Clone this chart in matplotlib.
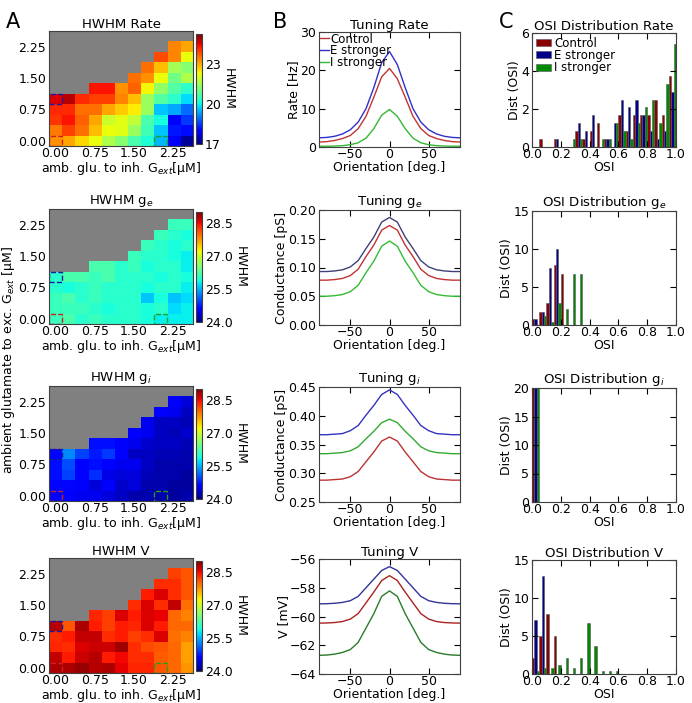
import numpy as np
import matplotlib
matplotlib.use('Agg')
import matplotlib.pyplot as plt
from matplotlib.patches import Rectangle

nan = np.nan

# grid of ambient glutamate values (both axes), step 0.25
amb_values = [0.0, 0.25, 0.5, 0.75, 1.0, 1.25, 1.5, 1.75, 2.0, 2.25, 2.5]
grid_ticks = [0.0, 0.75, 1.5, 2.25]

# HWHM maps, rows = exc. glutamate (bottom to top), cols = inh. glutamate
hwhm_rate = [
    [23.2, 23.0, 22.6, 22.2, 21.6, 21.2, 20.6, 20.2, 19.5, 18.0, 17.2],
    [23.4, 23.9, 23.5, 22.8, 22.2, 22.1, 21.4, 20.5, 19.6, 18.2, 18.1],
    [24.0, 24.3, 23.6, 23.0, 21.9, 22.1, 21.8, 20.6, 20.1, 18.0, 18.5],
    [24.1, 24.1, 23.5, 23.5, 23.0, 22.7, 22.4, 21.4, 19.6, 19.4, 18.9],
    [24.5, 24.8, 24.1, 23.9, 23.9, 23.3, 22.8, 21.4, 20.7, 20.3, 19.8],
    [nan, nan, nan, 24.3, 24.3, 23.2, 23.6, 22.3, 21.3, 20.7, 20.3],
    [nan, nan, nan, nan, nan, nan, 23.5, 23.2, 22.2, 21.0, 21.6],
    [nan, nan, nan, nan, nan, nan, nan, 23.5, 22.8, 21.5, 21.2],
    [nan, nan, nan, nan, nan, nan, nan, nan, 23.8, 23.3, 22.2],
    [nan, nan, nan, nan, nan, nan, nan, nan, nan, 23.3, 23.0],
    [nan, nan, nan, nan, nan, nan, nan, nan, nan, nan, nan],
]
hwhm_ge = [
    [26.1, 26.2, 26.0, 26.1, 26.0, 26.0, 26.0, 25.9, 25.8, 25.8, 25.8],
    [26.1, 26.1, 26.1, 26.0, 25.9, 26.0, 26.0, 25.9, 26.0, 25.7, 25.8],
    [26.1, 26.2, 26.0, 26.1, 26.0, 26.0, 26.0, 25.6, 25.9, 25.6, 25.7],
    [26.0, 25.9, 26.0, 26.1, 26.0, 26.0, 26.0, 25.9, 26.0, 26.0, 25.8],
    [26.0, 26.2, 26.2, 26.1, 26.2, 26.0, 26.0, 26.0, 25.9, 26.0, 25.9],
    [nan, nan, nan, 26.2, 26.2, 26.0, 26.1, 25.9, 26.0, 26.0, 25.8],
    [nan, nan, nan, nan, nan, nan, 26.1, 26.0, 26.0, 25.9, 25.8],
    [nan, nan, nan, nan, nan, nan, nan, 26.1, 26.0, 25.9, 26.0],
    [nan, nan, nan, nan, nan, nan, nan, nan, 26.1, 26.0, 25.9],
    [nan, nan, nan, nan, nan, nan, nan, nan, nan, 26.1, 26.1],
    [nan, nan, nan, nan, nan, nan, nan, nan, nan, nan, nan],
]
hwhm_gi = [
    [24.6, 24.6, 24.5, 24.5, 24.4, 24.3, 24.2, 24.2, 24.2, 24.15, 24.2],
    [24.65, 24.65, 24.55, 24.4, 24.6, 24.35, 24.4, 24.2, 24.2, 24.15, 24.15],
    [24.7, 24.95, 24.6, 24.85, 24.45, 24.4, 24.4, 24.25, 24.2, 24.2, 24.15],
    [24.7, 25.0, 24.6, 24.7, 24.6, 24.5, 24.5, 24.3, 24.2, 24.2, 24.2],
    [24.65, 25.3, 24.95, 24.75, 24.9, 24.6, 24.3, 24.3, 24.25, 24.25, 24.2],
    [nan, nan, nan, 24.7, 24.7, 24.6, 24.5, 24.35, 24.3, 24.3, 24.25],
    [nan, nan, nan, nan, nan, nan, 24.6, 24.5, 24.3, 24.25, 24.35],
    [nan, nan, nan, nan, nan, nan, nan, 24.5, 24.3, 24.3, 24.25],
    [nan, nan, nan, nan, nan, nan, nan, nan, 24.6, 24.5, 24.3],
    [nan, nan, nan, nan, nan, nan, nan, nan, nan, 24.6, 24.4],
    [nan, nan, nan, nan, nan, nan, nan, nan, nan, nan, nan],
]
hwhm_v = [
    [28.8, 28.8, 28.9, 28.75, 28.8, 28.55, 28.35, 28.35, 28.1, 28.0, 27.75],
    [28.7, 28.4, 28.65, 28.75, 28.4, 28.5, 28.3, 28.3, 28.05, 28.0, 27.7],
    [28.35, 28.3, 28.6, 28.65, 28.65, 28.85, 28.3, 28.15, 28.1, 28.0, 27.7],
    [28.3, 28.4, 28.7, 28.7, 28.3, 28.4, 28.2, 28.3, 28.6, 27.95, 27.85],
    [28.75, 28.1, 28.8, 28.4, 28.2, 28.4, 28.35, 28.6, 28.4, 28.0, 28.0],
    [nan, nan, nan, 28.35, 28.2, 28.6, 28.4, 28.6, 28.55, 28.0, 27.85],
    [nan, nan, nan, nan, nan, nan, 28.3, 28.6, 28.3, 28.7, 27.95],
    [nan, nan, nan, nan, nan, nan, nan, 28.4, 28.6, 28.3, 28.1],
    [nan, nan, nan, nan, nan, nan, nan, nan, 28.3, 28.3, 28.1],
    [nan, nan, nan, nan, nan, nan, nan, nan, nan, 28.2, 28.1],
    [nan, nan, nan, nan, nan, nan, nan, nan, nan, nan, nan],
]

# selected parameter sets (inh, exc)
sel_control = (0.0, 0.0)
sel_estrong = (0.0, 1.0)
sel_istrong = (2.0, 0.0)

# tuning curves
orientation = [-90, -80, -70, -60, -50, -40, -30, -20, -10, 0,
               10, 20, 30, 40, 50, 60, 70, 80, 90]
rate_ctrl = [1.3, 1.4, 1.7, 2.2, 3.0, 4.8, 8.0, 13.0, 18.3, 20.5,
             17.8, 13.0, 8.0, 4.8, 3.0, 2.2, 1.7, 1.4, 1.3]
rate_e = [2.4, 2.5, 2.8, 3.4, 4.5, 6.5, 10.0, 15.5, 22.0, 24.9,
          21.5, 15.5, 10.0, 6.5, 4.5, 3.4, 2.8, 2.5, 2.4]
rate_i = [0.2, 0.2, 0.25, 0.35, 0.6, 1.1, 2.3, 4.8, 8.3, 9.8,
          8.0, 4.8, 2.3, 1.1, 0.6, 0.35, 0.25, 0.2, 0.2]
ge_ctrl = [0.078, 0.078, 0.079, 0.081, 0.086, 0.097, 0.119, 0.139, 0.165, 0.173,
           0.165, 0.139, 0.119, 0.097, 0.086, 0.081, 0.079, 0.078, 0.078]
ge_e = [0.093, 0.093, 0.094, 0.096, 0.101, 0.112, 0.133, 0.153, 0.179, 0.187,
        0.179, 0.153, 0.133, 0.112, 0.101, 0.096, 0.094, 0.093, 0.093]
ge_i = [0.050, 0.050, 0.051, 0.053, 0.058, 0.069, 0.091, 0.111, 0.137, 0.146,
        0.137, 0.111, 0.091, 0.069, 0.058, 0.053, 0.051, 0.050, 0.050]
gi_ctrl = [0.288, 0.288, 0.289, 0.290, 0.294, 0.303, 0.320, 0.337, 0.356, 0.363,
           0.356, 0.337, 0.320, 0.303, 0.294, 0.290, 0.289, 0.288, 0.288]
gi_e = [0.367, 0.367, 0.368, 0.369, 0.374, 0.383, 0.401, 0.418, 0.437, 0.445,
        0.437, 0.418, 0.401, 0.383, 0.374, 0.369, 0.368, 0.367, 0.367]
gi_i = [0.334, 0.334, 0.335, 0.336, 0.339, 0.346, 0.360, 0.373, 0.388, 0.394,
        0.388, 0.373, 0.360, 0.346, 0.339, 0.336, 0.335, 0.334, 0.334]
v_ctrl = [-60.46, -60.45, -60.42, -60.35, -60.18, -59.8, -59.05, -58.3, -57.5, -57.16,
          -57.5, -58.3, -59.05, -59.8, -60.18, -60.35, -60.42, -60.45, -60.46]
v_e = [-59.12, -59.11, -59.08, -59.02, -58.9, -58.6, -58.0, -57.4, -56.8, -56.53,
       -56.8, -57.4, -58.0, -58.6, -58.9, -59.02, -59.08, -59.11, -59.12]
v_i = [-62.7, -62.68, -62.62, -62.5, -62.3, -61.8, -60.8, -59.8, -58.6, -58.22,
       -58.6, -59.8, -60.8, -61.8, -62.3, -62.5, -62.62, -62.68, -62.7]

# OSI distributions (density per bin, 20 bins on [0, 1])
osi_bins = [0.0, 0.05, 0.1, 0.15, 0.2, 0.25, 0.3, 0.35, 0.4, 0.45,
            0.5, 0.55, 0.6, 0.65, 0.7, 0.75, 0.8, 0.85, 0.9, 0.95]
osi_rate_ctrl = [0, 0.42, 0, 0.42, 0, 0, 0.83, 0.42, 0.83, 1.25,
                 0.42, 0, 1.67, 0.83, 1.67, 1.67, 1.67, 2.5, 1.67, 3.75]
osi_rate_e = [0, 0, 0, 0.42, 0, 0, 1.25, 0.83, 1.67, 0,
              0.42, 1.25, 2.5, 2.08, 2.5, 1.67, 0.83, 0.42, 0.83, 2.92]
osi_rate_i = [0, 0, 0, 0, 0, 0.42, 0.42, 0, 0, 0.42,
              0.42, 1.25, 0.83, 0.42, 1.25, 2.08, 2.5, 1.25, 3.33, 5.42]
osi_ge_ctrl = [0.83, 1.67, 2.92, 7.92, 6.67, 0, 0, 0, 0, 0,
               0, 0, 0, 0, 0, 0, 0, 0, 0, 0]
osi_ge_e = [0.83, 1.67, 7.5, 10.0, 0, 0, 0, 0, 0, 0,
            0, 0, 0, 0, 0, 0, 0, 0, 0, 0]
osi_ge_i = [0, 1.25, 0.42, 2.92, 2.08, 6.67, 6.67, 0, 0, 0,
            0, 0, 0, 0, 0, 0, 0, 0, 0, 0]
osi_gi_ctrl = [20, 0, 0, 0, 0, 0, 0, 0, 0, 0, 0, 0, 0, 0, 0, 0, 0, 0, 0, 0]
osi_gi_e = [20, 0, 0, 0, 0, 0, 0, 0, 0, 0, 0, 0, 0, 0, 0, 0, 0, 0, 0, 0]
osi_gi_i = [20, 0, 0, 0, 0, 0, 0, 0, 0, 0, 0, 0, 0, 0, 0, 0, 0, 0, 0, 0]
osi_v_ctrl = [2.08, 5.0, 7.92, 5.0, 0, 0, 0, 0, 0, 0,
              0, 0, 0, 0, 0, 0, 0, 0, 0, 0]
osi_v_e = [7.08, 12.92, 0, 0, 0, 0, 0, 0, 0, 0,
           0, 0, 0, 0, 0, 0, 0, 0, 0, 0]
osi_v_i = [0.42, 0.83, 0.83, 1.25, 2.08, 0.83, 2.08, 6.67, 3.75, 0.42,
           0.42, 0.42, 0, 0, 0, 0, 0, 0, 0, 0]

labels = ['Control', 'E stronger', 'I stronger']

plt.rcParams['font.family'] = 'DejaVu Sans'
plt.rcParams['font.size'] = 9
plt.rcParams['xtick.direction'] = 'in'
plt.rcParams['ytick.direction'] = 'in'
plt.rcParams['xtick.top'] = True
plt.rcParams['ytick.right'] = True
plt.rcParams['xtick.major.size'] = 4
plt.rcParams['ytick.major.size'] = 4
plt.rcParams['xtick.major.pad'] = 1
plt.rcParams['ytick.major.pad'] = 2
plt.rcParams['axes.edgecolor'] = '0.25'
plt.rcParams['axes.titlesize'] = 9.5
plt.rcParams['axes.titlepad'] = 2
plt.rcParams['axes.labelsize'] = 9
plt.rcParams['axes.labelpad'] = 0
plt.rcParams['axes.unicode_minus'] = True

W, H = 692, 703
fig = plt.figure(figsize=(W / 100, H / 100), dpi=100)


def box(l, t, r, b):
    return [l / W, 1 - b / H, (r - l) / W, (b - t) / H]


tops = [31, 209, 386, 558]

# ---- column A: HWHM maps
maps = [hwhm_rate, hwhm_ge, hwhm_gi, hwhm_v]
map_titles = ['HWHM Rate', 'HWHM g$_e$', 'HWHM g$_i$', 'HWHM V']
map_lims = [(17.0, 25.2), (24.0, 29.0), (24.0, 29.0), (24.0, 29.0)]
map_cticks = [[17, 20, 23], [24.0, 25.5, 27.0, 28.5], [24.0, 25.5, 27.0, 28.5],
              [24.0, 25.5, 27.0, 28.5]]
map_cfmt = ['%d', '%.1f', '%.1f', '%.1f']
half = 0.125
for k in range(4):
    t = tops[k]
    ax = fig.add_axes(box(49, t, 193, t + 115))
    ax.set_facecolor('#808080')
    im = ax.imshow(np.array(maps[k]), origin='lower', cmap='jet',
                   vmin=map_lims[k][0], vmax=map_lims[k][1], aspect='auto',
                   interpolation='nearest',
                   extent=[amb_values[0] - half, amb_values[-1] + half,
                           amb_values[0] - half, amb_values[-1] + half])
    for (sx, sy), c in zip([sel_control, sel_estrong, sel_istrong],
                           ['#cc2020', '#1a1aa0', '#20a020']):
        ax.add_patch(Rectangle((sx - half, sy - half), 2 * half, 2 * half,
                               fill=False, ls='--', ec=c, lw=1.0))
    ax.set_xticks(grid_ticks)
    ax.set_yticks(grid_ticks)
    ax.set_xticklabels(['%.2f' % v for v in grid_ticks])
    ax.set_yticklabels(['%.2f' % v for v in grid_ticks])
    ax.tick_params(length=0)
    ax.tick_params(axis='x', pad=1)
    ax.tick_params(axis='y', pad=2)
    ax.set_title(map_titles[k])
    ax.set_xlabel('amb. glu. to inh. G$_{ext}$[μM]')
    cax = fig.add_axes(box(196, t + 3, 202, t + 113))
    cb = fig.colorbar(im, cax=cax, ticks=map_cticks[k], format=map_cfmt[k])
    cb.outline.set_edgecolor('0.25')
    cax.tick_params(length=0, pad=2)
    cb.set_label('HWHM', rotation=270, labelpad=10)

fig.text(0.013, 1 - 360 / H, 'ambient glutamate to exc. G$_{ext}$ [μM]',
         rotation=90, ha='center', va='center', fontsize=9)

# ---- column B: tuning curves
tun = [(rate_ctrl, rate_e, rate_i), (ge_ctrl, ge_e, ge_i),
       (gi_ctrl, gi_e, gi_i), (v_ctrl, v_e, v_i)]
tun_colors = [('#c03333', '#3030c8', '#33b833'),
              ('#c03333', '#404078', '#33bb33'),
              ('#bb3333', '#3333c0', '#33aa33'),
              ('#aa2222', '#333399', '#2a7a2a')]
tun_titles = ['Tuning Rate', 'Tuning g$_e$', 'Tuning g$_i$', 'Tuning V']
tun_ylabels = ['Rate [Hz]', 'Conductance [pS]', 'Conductance [pS]', 'V [mV]']
tun_ylims = [(0, 30), (0.0, 0.2), (0.25, 0.45), (-64, -56)]
tun_yticks = [[0, 10, 20, 30], [0.0, 0.05, 0.1, 0.15, 0.2],
              [0.25, 0.3, 0.35, 0.4, 0.45], [-64, -62, -60, -58, -56]]
tun_fmt = ['%d', '%.2f', '%.2f', '%d']
for k in range(4):
    t = tops[k] + 1
    ax = fig.add_axes(box(319, t, 460, t + 115))
    for y, c, lab in zip(tun[k], tun_colors[k], labels):
        ax.plot(orientation, y, color=c, lw=1.0, label=lab)
    ax.set_xlim(-90, 90)
    ax.set_ylim(*tun_ylims[k])
    ax.set_xticks([-50, 0, 50])
    ax.set_yticks(tun_yticks[k])
    ax.set_yticklabels([(tun_fmt[k] % v).replace('-', '\u2212') for v in tun_yticks[k]])
    ax.set_title(tun_titles[k])
    ax.set_xlabel('Orientation [deg.]')
    ax.set_ylabel(tun_ylabels[k])
    if k == 0:
        ax.legend(loc='upper left', frameon=False, fontsize=8.5, handlelength=0.8,
                  handletextpad=0.1, borderaxespad=0.05, borderpad=0.0,
                  labelspacing=-0.1)

# ---- column C: OSI distributions
osi = [(osi_rate_ctrl, osi_rate_e, osi_rate_i), (osi_ge_ctrl, osi_ge_e, osi_ge_i),
       (osi_gi_ctrl, osi_gi_e, osi_gi_i), (osi_v_ctrl, osi_v_e, osi_v_i)]
osi_titles = ['OSI Distribution Rate', 'OSI Distribution g$_e$',
              'OSI Distribution g$_i$', 'OSI Distribution V']
osi_ylims = [6, 15, 20, 15]
osi_yticks = [[0, 2, 4, 6], [0, 5, 10, 15], [0, 5, 10, 15, 20], [0, 5, 10, 15]]
bar_colors = ['#8b0000', '#00008b', '#008800']
bw = 0.05 / 3
for k in range(4):
    t = tops[k] + 2
    ax = fig.add_axes(box(532, t, 676, t + 114))
    for j in range(3):
        ax.bar(np.array(osi_bins) + j * bw, osi[k][j], width=bw, align='edge',
               color=bar_colors[j], edgecolor='0.35', lw=0.4, label=labels[j])
    ax.set_xlim(0, 1)
    ax.set_ylim(0, osi_ylims[k])
    ax.set_xticks([0.0, 0.2, 0.4, 0.6, 0.8, 1.0])
    ax.set_xticklabels(['0.0', '0.2', '0.4', '0.6', '0.8', '1.0'])
    ax.set_yticks(osi_yticks[k])
    ax.set_title(osi_titles[k])
    ax.set_xlabel('OSI')
    ax.set_ylabel('Dist (OSI)')
    if k == 0:
        ax.legend(loc='upper left', frameon=False, fontsize=8.5, handlelength=1.3,
                  handleheight=0.5, handletextpad=0.3, borderaxespad=0.2,
                  borderpad=0.1, labelspacing=-0.05)

for txt, x in [('A', 6), ('B', 273), ('C', 499)]:
    fig.text(x / W, 1 - 28 / H, txt, fontsize=15, va='baseline')

fig.savefig('out.png', dpi=100)
